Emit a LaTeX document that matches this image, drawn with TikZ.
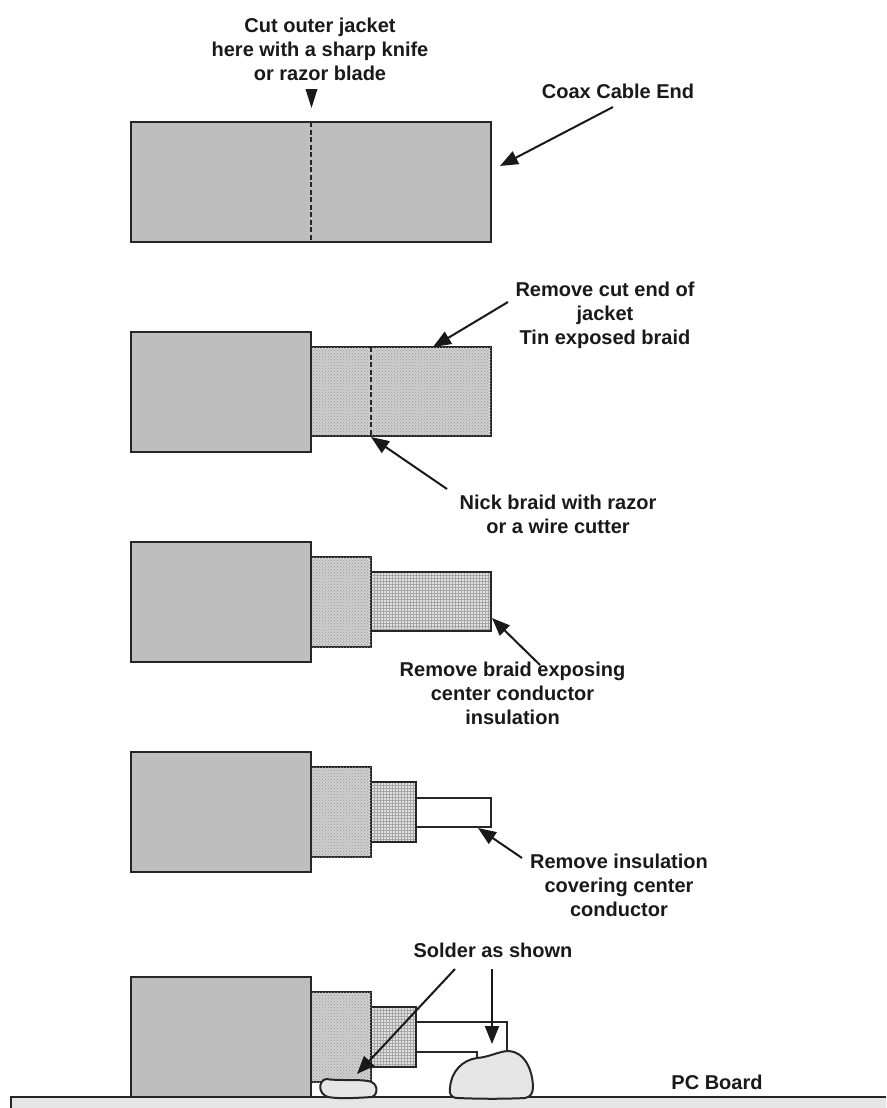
\documentclass[tikz,border=0pt]{standalone}
\usepackage{fontspec}
\setmainfont{Liberation Sans}
\usetikzlibrary{arrows.meta,patterns}
\definecolor{jacketgrey}{HTML}{BEBEBE}
\definecolor{braidgrey}{HTML}{CFCFCF}
\definecolor{meshgrey}{HTML}{E2E2E2}
\definecolor{soldergrey}{HTML}{E6E6E6}
\definecolor{linegrey}{HTML}{262626}
\tikzset{
  box/.style={draw=linegrey,line width=2.2pt,rectangle,inner sep=0pt,outer sep=0pt,anchor=north west},
  jacket/.style={box,fill=jacketgrey,minimum width=180pt,minimum height=120pt},
  shield/.style={box,fill=braidgrey,postaction={pattern=crosshatch dots,pattern color=black!40}},
  mesh/.style={rectangle,inner sep=0pt,outer sep=0pt,anchor=north west,fill=meshgrey},
  meshline/.style={draw=linegrey,line width=2.2pt},
  core/.style={rectangle,inner sep=0pt,outer sep=0pt,anchor=north west,fill=white},
  label/.style={font=\bfseries\fontsize{20}{24}\selectfont,align=center,inner sep=0pt,text=black!90},
  pointer/.style={draw=black!90,line width=2pt,-{Triangle[length=18pt,width=14pt]}},
  stub/.style={draw=black!90,line width=0pt,-{Triangle[length=19pt,width=12pt]}},
  cutline/.style={draw=linegrey,line width=2.2pt,dash pattern=on 5pt off 2.5pt},
  blob/.style={draw=linegrey,line width=2pt,fill=soldergrey},
}
\newcommand{\meshgrid}[4]{%
  \begin{scope}
    \clip (#1,#2) rectangle (#3,#4);
    \foreach \gx in {#1,\the\numexpr#1+3\relax,...,#3} \draw[black!35,line width=0.5pt] (\gx,#2) -- (\gx,#4);
    \foreach \gy in {#2,\the\numexpr#2+3\relax,...,#4} \draw[black!35,line width=0.5pt] (#1,\gy) -- (#3,\gy);
  \end{scope}}
\begin{document}
\begin{tikzpicture}[x=1pt,y=-1pt]
\useasboundingbox (0,0) rectangle (886,1108);
% ---- board
\path[fill=soldergrey] (11,1097) rectangle (886,1108);
\draw[draw=linegrey,line width=2.2pt] (11,1108) -- (11,1097) -- (886,1097);
% ---- row 1
\node[jacket,minimum width=360pt] (a1) at (131,122) {};
\draw[cutline] (a1.north) -- (a1.south);
% ---- row 2
\node[shield,minimum width=180pt,minimum height=89pt] (b2) at (311,347) {};
\node[jacket] (a2) at (131,332) {};
\draw[cutline] ([xshift=60pt]b2.north west) -- ([xshift=60pt]b2.south west);
% ---- row 3
\node[mesh,minimum width=120pt,minimum height=59pt] (c3) at (371,572) {};
\meshgrid{371}{572}{491}{631}
\draw[meshline] (c3.north west) rectangle (c3.south east);
\node[shield,minimum width=60pt,minimum height=90pt] (b3) at (311,557) {};
\node[jacket] (a3) at (131,542) {};
% ---- row 4
\node[core,minimum width=75pt,minimum height=29pt] (d4) at (416,798) {};
\draw[meshline] (d4.north west) rectangle (d4.south east);
\node[mesh,minimum width=45pt,minimum height=60pt] (c4) at (371,782) {};
\meshgrid{371}{782}{416}{842}
\draw[meshline] (c4.north west) rectangle (c4.south east);
\node[shield,minimum width=60pt,minimum height=90pt] (b4) at (311,767) {};
\node[jacket] (a4) at (131,752) {};
% ---- row 5
\node[core,minimum width=91pt,minimum height=30pt] (d5) at (416,1022) {};
\draw[meshline] (d5.south west) -- ++(61,0) -- ++(0,6);
\draw[meshline] (d5.north west) -- (d5.north east) -- (d5.south east);
\node[mesh,minimum width=45pt,minimum height=60pt] (c5) at (371,1007) {};
\meshgrid{371}{1007}{416}{1067}
\draw[meshline] (c5.north west) rectangle (c5.south east);
\node[shield,minimum width=60pt,minimum height=90pt] (b5) at (311,992) {};
\node[jacket,minimum height=120pt] (a5) at (131,977) {};
% ---- solder
\path[blob] (477,1058) .. controls (462,1060) and (451,1072) .. (450,1088)
  .. controls (449,1094) and (451,1098) .. (458,1098)
  .. controls (480,1099) and (505,1099) .. (525,1098)
  .. controls (531,1097) and (533,1093) .. (533,1086)
  .. controls (532,1068) and (524,1052) .. (509,1051)
  .. controls (499,1051) and (490,1057) .. (477,1058) -- cycle;
\path[blob] (326,1079) .. controls (340,1081) and (355,1079) .. (368,1081)
  .. controls (378,1082) and (379,1094) .. (372,1097)
  .. controls (355,1098) and (340,1099) .. (328,1097)
  .. controls (318,1094) and (318,1081) .. (326,1079) -- cycle;
\coordinate (s1tip) at (357,1074);
\coordinate (s2tip) at (492,1044);
% ---- labels
\node[label] (t1) at (320,49) {Cut outer jacket\\here with a sharp knife\\or razor blade};
\node[label] (t2) at (618,91) {Coax Cable End};
\node[label] (t3) at (605,315) {Remove cut end of\\jacket\\Tin exposed braid};
\node[label] (t4) at (558,514) {Nick braid with razor\\or a wire cutter};
\node[label] (t5) at (512.5,693) {Remove braid exposing\\center conductor\\insulation};
\node[label] (t6) at (619,885) {Remove insulation\\covering center\\conductor};
\node[label] (t7) at (493,950) {Solder as shown};
\node[label] (t8) at (717,1082) {PC Board};
% ---- pointers
\coordinate (p1s) at (311.5,89); \coordinate (p1e) at (311.5,108);
\draw[stub] (p1s) -- (p1e);
\coordinate (p2s) at (613,107); \coordinate (p2e) at (500,166);
\draw[pointer] (p2s) -- (p2e);
\coordinate (p3s) at (508,302); \coordinate (p3e) at (433,347);
\draw[pointer] (p3s) -- (p3e);
\coordinate (p4s) at (447,489); \coordinate (p4e) at (371,437);
\draw[pointer] (p4s) -- (p4e);
\coordinate (p5s) at (540,665); \coordinate (p5e) at (492,618);
\draw[pointer] (p5s) -- (p5e);
\coordinate (p6s) at (522,858); \coordinate (p6e) at (478,828);
\draw[pointer] (p6s) -- (p6e);
\coordinate (p7s) at (455,969);
\draw[pointer] (p7s) -- (s1tip);
\coordinate (p8s) at (492,969);
\draw[pointer] (p8s) -- (s2tip);
\end{tikzpicture}
\end{document}
